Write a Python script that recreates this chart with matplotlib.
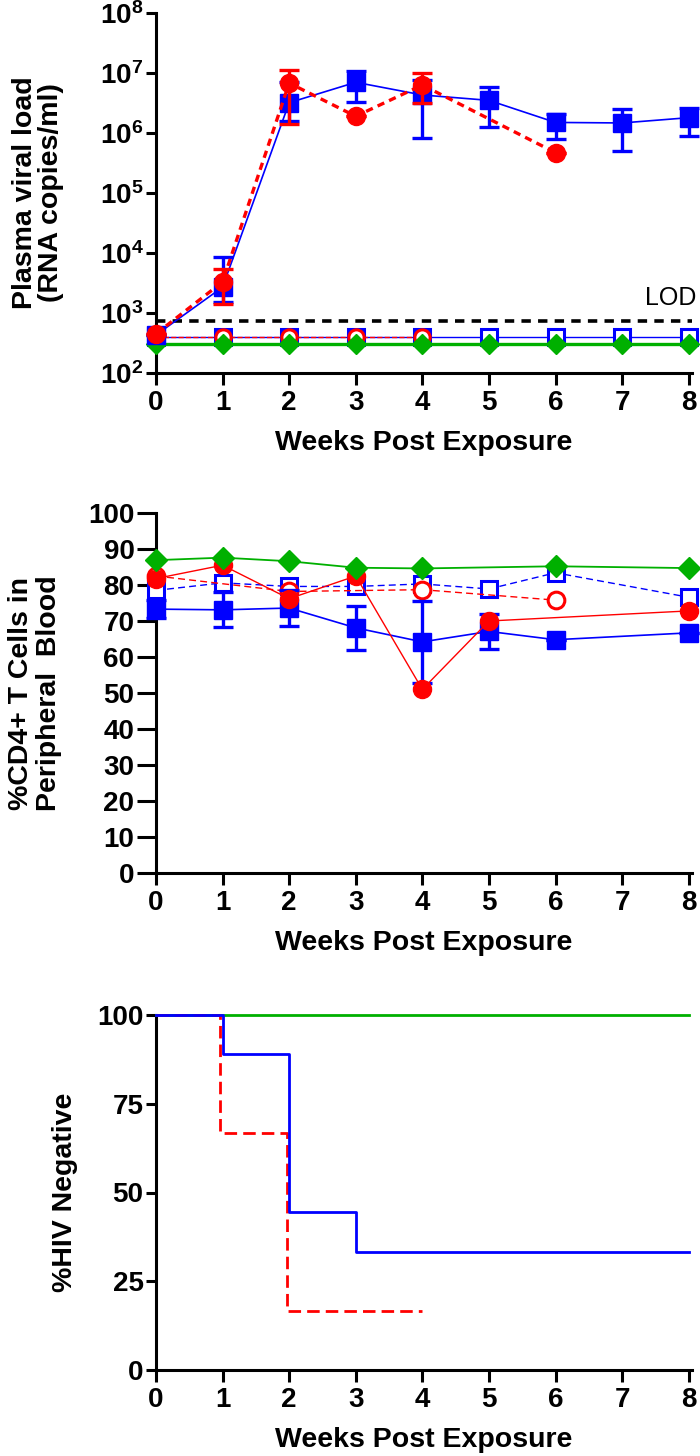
"""Three-panel figure: plasma viral load, %CD4+ T cells and %HIV negative vs weeks."""

import matplotlib

matplotlib.use("Agg")
import matplotlib.pyplot as plt  # noqa: E402
import numpy as np  # noqa: E402
from matplotlib.ticker import FixedLocator, LogFormatterSciNotation, NullLocator  # noqa: E402

plt.rcParams["font.family"] = ["Liberation Sans", "DejaVu Sans"]
plt.rcParams["font.weight"] = "bold"
plt.rcParams["mathtext.fontset"] = "custom"
plt.rcParams["mathtext.bf"] = "Liberation Sans:bold"
plt.rcParams["mathtext.rm"] = "Liberation Sans:bold"
plt.rcParams["mathtext.default"] = "bf"

BLUE = "#0000ff"
RED = "#ff0000"
GREEN = "#00b000"

# --- panel A: plasma viral load (RNA copies/ml) ---
vl_weeks_blue = [0, 1, 2, 3, 4, 5, 6, 7, 8]
vl_blue = [430, 2700, 3.2e6, 7.0e6, 4.3e6, 3.5e6, 1.5e6, 1.47e6, 1.8e6]
vl_blue_lo = [430, 1500, 1.6e6, 3.3e6, 8.3e5, 1.25e6, 8.0e5, 5.0e5, 9.0e5]
vl_blue_hi = [430, 8500, 7.0e6, 1.07e7, 7.6e6, 5.9e6, 2.1e6, 2.5e6, 2.6e6]

vl_weeks_red = [0, 1, 2, 3, 4, 6]
vl_red = [450, 3300, 6.8e6, 1.9e6, 6.3e6, 4.7e5]
vl_red_lo = [450, 1400, 1.4e6, 1.9e6, 3.2e6, 4.7e5]
vl_red_hi = [450, 5400, 1.12e7, 1.9e6, 1.0e7, 4.7e5]

vl_weeks_blue_open = [0, 1, 2, 3, 4, 5, 6, 7, 8]
vl_blue_open = [400, 400, 400, 400, 400, 400, 400, 400, 400]
vl_weeks_red_open = [0, 1, 2, 3, 4]
vl_red_open = [400, 400, 400, 400, 400]
vl_weeks_green = [0, 1, 2, 3, 4, 5, 6, 7, 8]
vl_green = [310, 310, 310, 310, 310, 310, 310, 310, 310]
LOD = 740

# --- panel B: %CD4+ T cells ---
cd4_weeks_blue = [0, 1, 2, 3, 4, 5, 6, 8]
cd4_blue = [73.3, 73.1, 73.6, 68.1, 64.2, 67.1, 64.8, 66.7]
cd4_blue_err = [2.5, 4.9, 5.0, 6.2, 11.3, 4.8, 0, 0]
cd4_weeks_blue_open = [0, 1, 2, 3, 4, 5, 6, 8]
cd4_blue_open = [78.5, 80.6, 79.6, 79.6, 80.3, 78.9, 83.4, 76.6]
cd4_weeks_red = [0, 1, 2, 3, 4, 5, 8]
cd4_red = [81.8, 85.5, 76.2, 82.5, 51.0, 70.0, 72.8]
cd4_weeks_red_open = [0, 2, 4, 6]
cd4_red_open = [82.5, 78.2, 78.7, 75.8]
cd4_weeks_green = [0, 1, 2, 3, 4, 6, 8]
cd4_green = [86.9, 87.6, 86.6, 84.8, 84.6, 85.2, 84.7]

# --- panel C: %HIV negative (Kaplan-Meier) ---
km_t_green = [0, 8]
km_green = [100, 100]
km_t_blue = [0, 1, 2, 3, 8]
km_blue = [100, 88.9, 44.4, 33.3, 33.3]
km_t_red = [0, 0.96, 1.96, 4]
km_red = [100, 66.7, 16.7, 16.7]

weeks_ticks = list(range(9))

W, H = 700, 1456
LEFT, RIGHT = 156, 692
fig = plt.figure(figsize=(W / 100, H / 100), dpi=100)


def px_axes(top, bottom):
    return fig.add_axes([LEFT / W, 1 - bottom / H, (RIGHT - LEFT) / W, (bottom - top) / H])


def style(ax, ytick_len=7):
    for s in ("top", "right"):
        ax.spines[s].set_visible(False)
    for s in ("left", "bottom"):
        ax.spines[s].set_linewidth(2.2)
    ax.tick_params(axis="both", direction="out", width=2.2, labelsize=20)
    ax.tick_params(axis="x", length=8.5, pad=4)
    ax.tick_params(axis="y", length=ytick_len, pad=2)
    ax.set_xlim(0, 8.05)
    ax.set_xticks(weeks_ticks)
    ax.set_xlabel("Weeks Post Exposure", fontsize=20.5, fontweight="bold", labelpad=10)


def ylabel_at(ax, text, right_px, **kw):
    ax.set_ylabel(text, fontsize=20.5, fontweight="bold", **kw)
    ax.yaxis.set_label_coords((right_px - LEFT) / (RIGHT - LEFT), 0.5)


def asym(vals, lo, hi):
    v = np.array(vals)
    return np.vstack([v - np.array(lo), np.array(hi) - v])


# ---------------- panel A ----------------
ax1 = px_axes(13, 373)
style(ax1)
ax1.set_yscale("log")
ax1.set_ylim(1e2, 1e8)
ax1.yaxis.set_major_locator(FixedLocator([10.0 ** k for k in range(2, 9)]))
ax1.yaxis.set_major_formatter(LogFormatterSciNotation())
ax1.yaxis.set_minor_locator(NullLocator())

ax1.axhline(LOD, color="black", lw=2.6, ls=(0, (2.6, 2.0)), zorder=2)
ax1.text(8.12, 1800, "LOD", ha="right", va="center", fontsize=18, fontweight="normal")

ax1.plot(vl_weeks_blue_open, vl_blue_open, color=BLUE, lw=1.0, marker="s", ms=11,
         mfc="white", mec=BLUE, mew=2.2, clip_on=False, zorder=3)
ax1.plot(vl_weeks_red_open, vl_red_open, color=RED, lw=1.0, ls="--", marker="o", ms=11,
         mfc="white", mec=RED, mew=2.2, clip_on=False, zorder=4)
ax1.plot(vl_weeks_green, vl_green, color=GREEN, lw=2.4, marker="D", ms=10,
         mfc=GREEN, mec=GREEN, clip_on=False, zorder=5)
ax1.errorbar(vl_weeks_blue, vl_blue, yerr=asym(vl_blue, vl_blue_lo, vl_blue_hi), color=BLUE,
             lw=1.2, marker="s", ms=12.5, mfc=BLUE, mec=BLUE, elinewidth=2.4, capsize=7.5,
             capthick=2.4, clip_on=False, zorder=6)
ax1.errorbar(vl_weeks_red, vl_red, yerr=asym(vl_red, vl_red_lo, vl_red_hi), color=RED,
             lw=2.4, ls=(0, (2.2, 1.6)), marker="o", ms=13, mfc=RED, mec=RED, elinewidth=2.4,
             capsize=7.5, capthick=2.4, clip_on=False, zorder=7)
ylabel_at(ax1, "Plasma viral load\n(RNA copies/ml)", 64, linespacing=0.98)

# ---------------- panel B ----------------
ax2 = px_axes(513, 873)
style(ax2, ytick_len=13.5)
ax2.set_ylim(0, 100)
ax2.set_yticks(range(0, 101, 10))

ax2.plot(cd4_weeks_blue_open, cd4_blue_open, color=BLUE, lw=1.0, ls=(0, (5, 3)), marker="s",
         ms=12, mfc="white", mec=BLUE, mew=2.2, clip_on=False, zorder=3)
ax2.plot(cd4_weeks_red_open, cd4_red_open, color=RED, lw=1.0, ls=(0, (5, 3)), marker="o",
         ms=12, mfc="white", mec=RED, mew=2.2, clip_on=False, zorder=4)
ax2.errorbar(cd4_weeks_blue, cd4_blue, yerr=cd4_blue_err, color=BLUE, lw=1.2, marker="s",
             ms=12.5, mfc=BLUE, mec=BLUE, elinewidth=2.4, capsize=7.5, capthick=2.4,
             clip_on=False, zorder=5)
ax2.plot(cd4_weeks_red, cd4_red, color=RED, lw=1.0, marker="o", ms=13, mfc=RED, mec=RED,
         clip_on=False, zorder=6)
ax2.plot(cd4_weeks_green, cd4_green, color=GREEN, lw=1.3, marker="D", ms=11, mfc=GREEN,
         mec=GREEN, clip_on=False, zorder=7)
ylabel_at(ax2, "%CD4+ T Cells in\nPeripheral  Blood", 62, linespacing=1.1)

# ---------------- panel C ----------------
ax3 = px_axes(1015, 1370)
style(ax3)
ax3.set_ylim(0, 100)
ax3.set_yticks([0, 25, 50, 75, 100])

ax3.plot(km_t_green, km_green, color=GREEN, lw=2.0, drawstyle="steps-post", clip_on=False, zorder=3)
ax3.plot(km_t_red, km_red, color=RED, lw=2.0, ls=(0, (4.5, 2.2)), drawstyle="steps-post",
         clip_on=False, zorder=4)
ax3.plot(km_t_blue, km_blue, color=BLUE, lw=2.0, drawstyle="steps-post", clip_on=False, zorder=5)
ylabel_at(ax3, "%HIV Negative", 78)

fig.savefig("out.png", dpi=100)
